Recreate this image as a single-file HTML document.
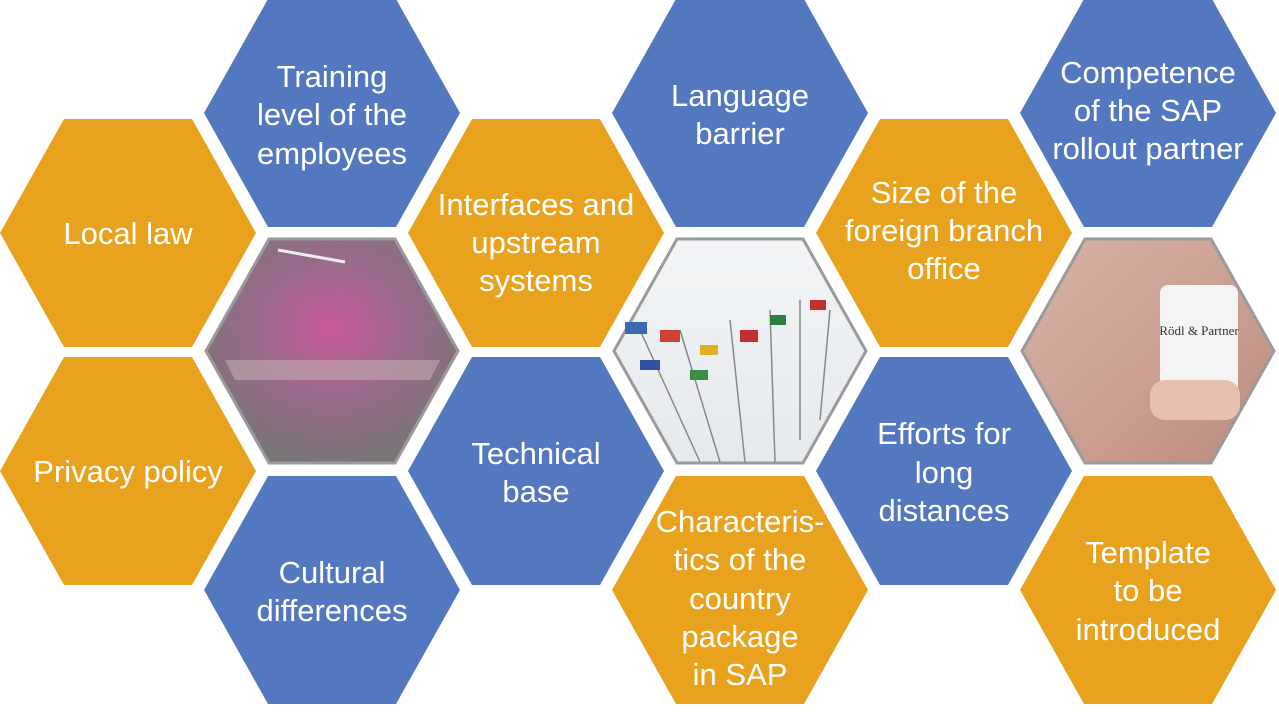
<!DOCTYPE html>
<html><head><style>
html,body{margin:0;padding:0;background:#fff;}
svg{display:block;}
text{font-family:"Liberation Sans",sans-serif;font-size:31px;fill:#fff;text-anchor:middle;}
</style></head><body>
<svg width="1279" height="713" viewBox="0 0 1279 713" xmlns="http://www.w3.org/2000/svg">
<defs>
<radialGradient id="g1" cx="0.5" cy="0.4" r="0.6">
<stop offset="0" stop-color="#c85a98"/><stop offset="0.5" stop-color="#9a6a8c"/><stop offset="1" stop-color="#7a7478"/>
</radialGradient>
<linearGradient id="g2" x1="0" y1="0" x2="0" y2="1">
<stop offset="0" stop-color="#f2f4f6"/><stop offset="1" stop-color="#e6e9ec"/>
</linearGradient>
<linearGradient id="g3" x1="0" y1="0" x2="1" y2="1">
<stop offset="0" stop-color="#d8b3a6"/><stop offset="0.6" stop-color="#c99d90"/><stop offset="1" stop-color="#b88a7c"/>
</linearGradient>
</defs>
<polygon fill="#E9A21E" points="0,233 64,119 192,119 256,233 192,347 64,347"/>
<polygon fill="#E9A21E" points="0,471 64,357 192,357 256,471 192,585 64,585"/>
<polygon fill="#5478BF" points="204,113 268,-1 396,-1 460,113 396,227 268,227"/>
<polygon fill="url(#g1)" stroke="#9a9a9a" stroke-width="3" points="206,351 269,239 395,239 458,351 395,463 269,463"/>
<polygon fill="#c8b8b8" opacity="0.5" points="225,360 440,360 430,380 235,380"/>
<line x1="278" y1="250" x2="345" y2="262" stroke="#eee" stroke-width="3"/>
<polygon fill="#5478BF" points="204,590 268,476 396,476 460,590 396,704 268,704"/>
<polygon fill="#E9A21E" points="408,233 472,119 600,119 664,233 600,347 472,347"/>
<polygon fill="#5478BF" points="408,471 472,357 600,357 664,471 600,585 472,585"/>
<polygon fill="#5478BF" points="612,113 676,-1 804,-1 868,113 804,227 676,227"/>
<polygon fill="url(#g2)" stroke="#9a9a9a" stroke-width="3" points="614,351 677,239 803,239 866,351 803,463 677,463"/>
<polygon fill="#E9A21E" points="612,590 676,476 804,476 868,590 804,704 676,704"/>
<polygon fill="#E9A21E" points="816,233 880,119 1008,119 1072,233 1008,347 880,347"/>
<polygon fill="#5478BF" points="816,471 880,357 1008,357 1072,471 1008,585 880,585"/>
<polygon fill="#5478BF" points="1020,113 1084,-1 1212,-1 1276,113 1212,227 1084,227"/>
<polygon fill="url(#g3)" stroke="#9a9a9a" stroke-width="3" points="1022,351 1085,239 1211,239 1274,351 1211,463 1085,463"/>
<polygon fill="#E9A21E" points="1020,590 1084,476 1212,476 1276,590 1212,704 1084,704"/>
<g stroke="#888" stroke-width="1.5">
<line x1="640" y1="330" x2="700" y2="462"/><line x1="680" y1="330" x2="720" y2="462"/>
<line x1="730" y1="320" x2="745" y2="462"/><line x1="770" y1="310" x2="775" y2="462"/>
<line x1="800" y1="300" x2="800" y2="440"/><line x1="830" y1="310" x2="820" y2="420"/>
</g>
<g>
<rect x="625" y="322" width="22" height="12" fill="#3a6ab0"/><rect x="660" y="330" width="20" height="12" fill="#d04030"/>
<rect x="700" y="345" width="18" height="10" fill="#e0b020"/><rect x="740" y="330" width="18" height="12" fill="#c03030"/>
<rect x="770" y="315" width="16" height="10" fill="#2a8040"/><rect x="810" y="300" width="16" height="10" fill="#c03030"/>
<rect x="640" y="360" width="20" height="10" fill="#3050a0"/><rect x="690" y="370" width="18" height="10" fill="#3a9040"/>
</g>
<rect x="1160" y="285" width="78" height="130" rx="8" fill="#f4f4f4"/>
<text x="1199" y="335" style="font-family:'Liberation Serif',serif;font-size:13px;fill:#333">Rödl &amp; Partner</text>
<rect x="1150" y="380" width="90" height="40" rx="15" fill="#e8c0b0"/>
<text x="128" y="244">Local law</text>
<text x="128" y="482">Privacy policy</text>
<text x="332" y="87">Training</text><text x="332" y="125">level of the</text><text x="332" y="164">employees</text>
<text x="332" y="583">Cultural</text><text x="332" y="621">differences</text>
<text x="536" y="215">Interfaces and</text><text x="536" y="253">upstream</text><text x="536" y="291">systems</text>
<text x="536" y="464">Technical</text><text x="536" y="502">base</text>
<text x="740" y="106">Language</text><text x="740" y="144">barrier</text>
<text x="740" y="532">Characteris-</text><text x="740" y="570">tics of the</text><text x="740" y="609">country</text><text x="740" y="647">package</text><text x="740" y="685">in SAP</text>
<text x="944" y="203">Size of the</text><text x="944" y="241">foreign branch</text><text x="944" y="279">office</text>
<text x="944" y="444">Efforts for</text><text x="944" y="483">long</text><text x="944" y="521">distances</text>
<text x="1148" y="83">Competence</text><text x="1148" y="121">of the SAP</text><text x="1148" y="159">rollout partner</text>
<text x="1148" y="563">Template</text><text x="1148" y="601">to be</text><text x="1148" y="640">introduced</text>
</svg>
</body></html>
